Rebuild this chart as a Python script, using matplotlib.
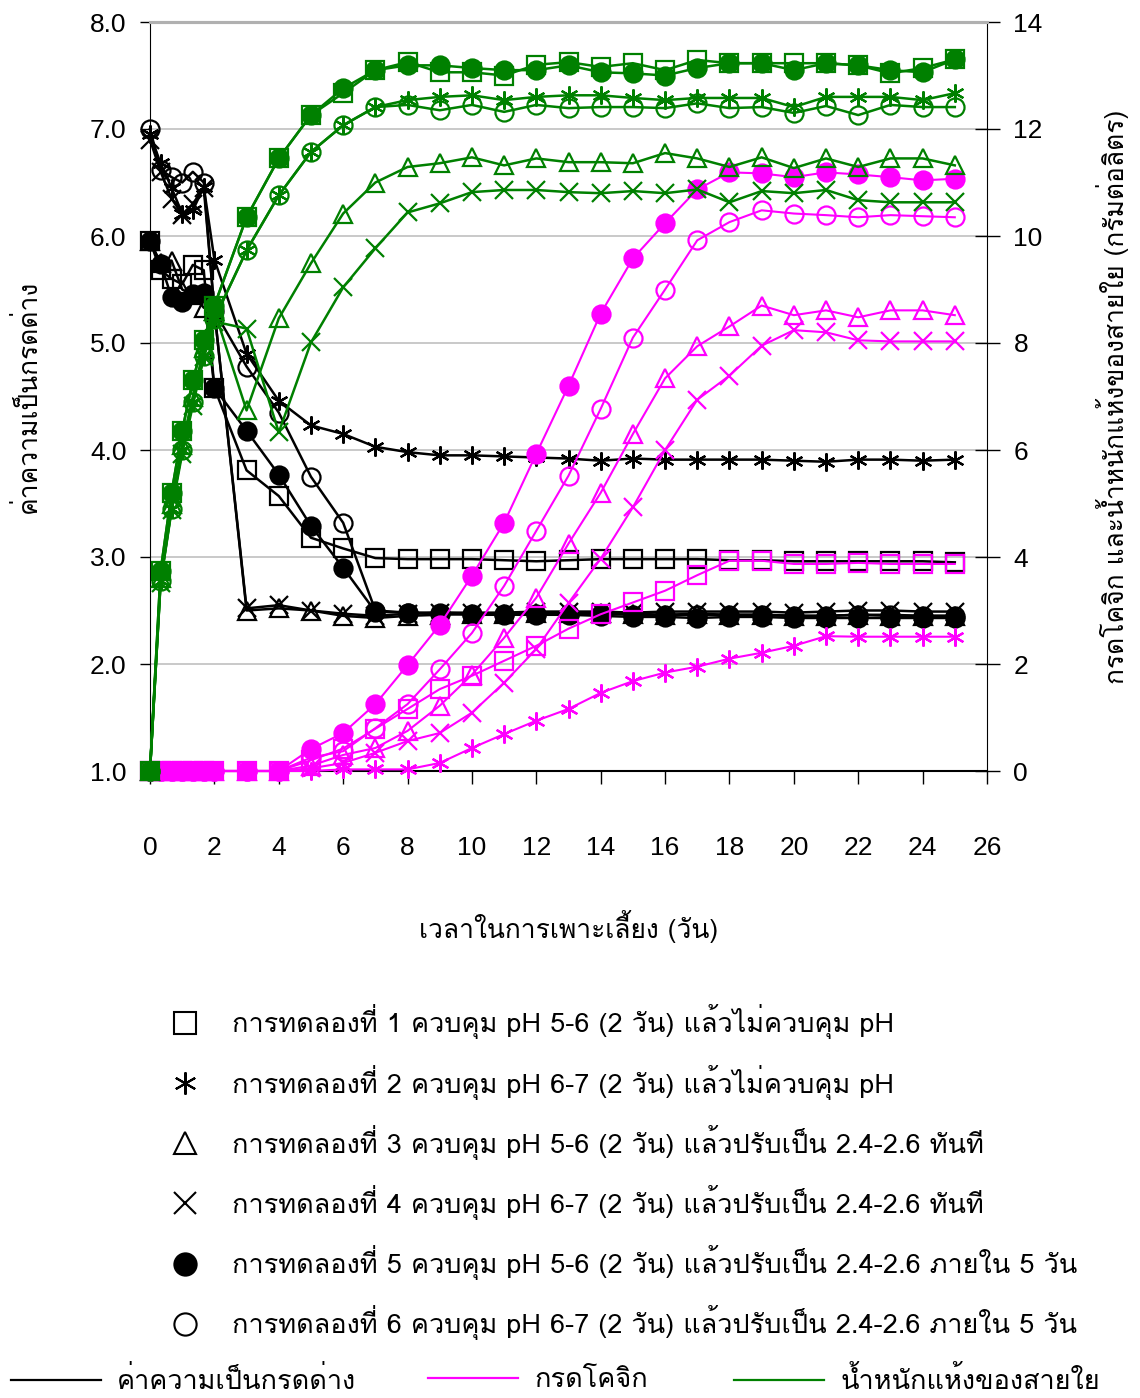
import matplotlib
matplotlib.use("Agg")
import matplotlib.pyplot as plt
from matplotlib.lines import Line2D
from matplotlib import font_manager
from matplotlib.ft2font import FT2Font


def thai_font():
    names = []
    for f in font_manager.fontManager.ttflist:
        try:
            if 0x0E01 in FT2Font(f.fname).get_charmap():
                names.append(f.name)
        except Exception:
            pass
    if "Loma" in names:
        return ["Loma"]
    return names[:1]


FAMILY = thai_font() + ["Liberation Sans", "DejaVu Sans"]

# sampling days: every 8 h for the first two days, then daily
days = [0, 0.33, 0.67, 1, 1.33, 1.67, 2, 3, 4, 5, 6, 7, 8, 9, 10, 11, 12, 13,
        14, 15, 16, 17, 18, 19, 20, 21, 22, 23, 24, 25]

# pH (left axis)
ph_1 = [5.95, 5.68, 5.60, 5.55, 5.73, 5.68, 4.58, 3.81, 3.57, 3.18, 3.08, 2.99, 2.98, 2.98, 2.98,
        2.97, 2.96, 2.97, 2.98, 2.98, 2.98, 2.98, 2.97, 2.97, 2.96, 2.96, 2.96, 2.96, 2.96, 2.95]
ph_2 = [6.95, 6.68, 6.45, 6.21, 6.24, 6.46, 5.78, 4.90, 4.46, 4.23, 4.15, 4.03, 3.98, 3.95, 3.95,
        3.94, 3.93, 3.92, 3.90, 3.92, 3.91, 3.91, 3.91, 3.91, 3.90, 3.89, 3.91, 3.91, 3.90, 3.91]
ph_3 = [5.95, 5.75, 5.77, 5.50, 5.45, 5.33, 5.30, 2.50, 2.52, 2.50, 2.45, 2.43, 2.45, 2.46, 2.47,
        2.47, 2.48, 2.48, 2.48, 2.47, 2.46, 2.47, 2.46, 2.46, 2.45, 2.45, 2.46, 2.45, 2.45, 2.45]
ph_4 = [6.90, 6.60, 6.35, 6.20, 6.30, 6.45, 5.30, 2.52, 2.55, 2.50, 2.47, 2.45, 2.47, 2.48, 2.48,
        2.48, 2.49, 2.49, 2.49, 2.48, 2.49, 2.49, 2.49, 2.49, 2.48, 2.49, 2.50, 2.50, 2.49, 2.49]
ph_5 = [5.95, 5.74, 5.43, 5.38, 5.46, 5.47, 4.58, 4.18, 3.77, 3.29, 2.90, 2.49, 2.48, 2.47, 2.46,
        2.46, 2.46, 2.46, 2.45, 2.44, 2.44, 2.43, 2.44, 2.44, 2.43, 2.43, 2.43, 2.43, 2.43, 2.43]
ph_6 = [7.00, 6.62, 6.55, 6.50, 6.60, 6.50, 5.30, 4.78, 4.35, 3.75, 3.32, 2.50, 2.48, 2.48, 2.47,
        2.47, 2.47, 2.47, 2.47, 2.46, 2.46, 2.46, 2.46, 2.46, 2.45, 2.45, 2.46, 2.46, 2.45, 2.45]

# kojic acid, g/L (right axis)
kojic_1 = [0, 0, 0, 0, 0, 0, 0, 0, 0, 0.20, 0.42, 0.79, 1.16, 1.53, 1.78, 2.06, 2.34, 2.66, 2.93,
           3.15, 3.37, 3.66, 3.93, 3.93, 3.87, 3.87, 3.89, 3.87, 3.87, 3.87]
kojic_2 = [0, 0, 0, 0, 0, 0, 0, 0, 0, 0, 0.03, 0.03, 0.03, 0.15, 0.43, 0.69, 0.94, 1.16, 1.46,
           1.68, 1.84, 1.95, 2.10, 2.21, 2.34, 2.52, 2.51, 2.51, 2.51, 2.51]
kojic_3 = [0, 0, 0, 0, 0, 0, 0, 0, 0, 0.10, 0.30, 0.43, 0.75, 1.22, 1.80, 2.49, 3.24, 4.25, 5.20,
           6.30, 7.34, 7.94, 8.31, 8.70, 8.52, 8.61, 8.48, 8.61, 8.61, 8.52]
kojic_4 = [0, 0, 0, 0, 0, 0, 0, 0, 0, 0.05, 0.15, 0.34, 0.56, 0.71, 1.09, 1.65, 2.28, 3.14, 3.97,
           4.93, 6.00, 6.94, 7.39, 7.95, 8.24, 8.20, 8.05, 8.03, 8.03, 8.03]
kojic_5 = [0, 0, 0, 0, 0, 0, 0, 0, 0, 0.41, 0.71, 1.25, 1.98, 2.73, 3.65, 4.64, 5.93, 7.20, 8.55,
           9.58, 10.24, 10.87, 11.19, 11.17, 11.10, 11.19, 11.15, 11.10, 11.04, 11.07]
kojic_6 = [0, 0, 0, 0, 0, 0, 0, 0, 0, 0.25, 0.37, 0.80, 1.25, 1.90, 2.58, 3.46, 4.49, 5.52, 6.77,
           8.10, 9.00, 9.92, 10.26, 10.48, 10.42, 10.39, 10.35, 10.39, 10.37, 10.35]

# mycelium dry weight, g/L (right axis)
dw_1 = [0, 3.74, 5.20, 6.36, 7.30, 8.05, 8.70, 10.35, 11.45, 12.26, 12.67, 13.10, 13.25, 13.06, 13.06,
        13.00, 13.20, 13.25, 13.16, 13.23, 13.10, 13.29, 13.23, 13.23, 13.23, 13.23, 13.19, 13.04, 13.14, 13.30]
dw_2 = [0, 3.55, 4.90, 6.00, 6.90, 7.75, 8.45, 9.73, 10.76, 11.57, 12.07, 12.41, 12.54, 12.60, 12.63,
        12.54, 12.60, 12.63, 12.63, 12.58, 12.54, 12.58, 12.58, 12.58, 12.41, 12.60, 12.60, 12.60, 12.54, 12.67]
dw_3 = [0, 3.60, 5.00, 6.10, 7.00, 7.90, 8.60, 6.74, 8.46, 9.49, 10.42, 11.00, 11.29, 11.36, 11.47,
        11.32, 11.45, 11.38, 11.38, 11.36, 11.55, 11.45, 11.29, 11.47, 11.27, 11.45, 11.29, 11.45, 11.45, 11.32]
dw_4 = [0, 3.52, 4.87, 5.93, 6.83, 7.73, 8.40, 8.27, 6.33, 8.01, 9.04, 9.77, 10.44, 10.61, 10.82,
        10.86, 10.86, 10.82, 10.80, 10.84, 10.80, 10.87, 10.63, 10.84, 10.80, 10.86, 10.67, 10.63, 10.63, 10.63]
dw_5 = [0, 3.74, 5.20, 6.36, 7.30, 8.05, 8.70, 10.35, 11.45, 12.26, 12.76, 13.10, 13.19, 13.19, 13.14,
        13.10, 13.10, 13.19, 13.06, 13.04, 13.00, 13.14, 13.23, 13.23, 13.10, 13.23, 13.19, 13.10, 13.06, 13.30]
dw_6 = [0, 3.55, 4.90, 6.00, 6.90, 7.75, 8.45, 9.73, 10.76, 11.57, 12.07, 12.41, 12.45, 12.35, 12.45,
        12.32, 12.45, 12.39, 12.41, 12.41, 12.39, 12.48, 12.39, 12.41, 12.30, 12.43, 12.26, 12.45, 12.41, 12.41]

exp_labels = [
    "การทดลองที่ 1 ควบคุม pH 5-6 (2 วัน) แล้วไม่ควบคุม pH",
    "การทดลองที่ 2 ควบคุม pH 6-7 (2 วัน) แล้วไม่ควบคุม pH",
    "การทดลองที่ 3 ควบคุม pH 5-6 (2 วัน) แล้วปรับเป็น 2.4-2.6 ทันที",
    "การทดลองที่ 4 ควบคุม pH 6-7 (2 วัน) แล้วปรับเป็น 2.4-2.6 ทันที",
    "การทดลองที่ 5 ควบคุม pH 5-6 (2 วัน) แล้วปรับเป็น 2.4-2.6 ภายใน 5 วัน",
    "การทดลองที่ 6 ควบคุม pH 6-7 (2 วัน) แล้วปรับเป็น 2.4-2.6 ภายใน 5 วัน",
]
measure_labels = ["ค่าความเป็นกรดด่าง", "กรดโคจิก", "น้ำหนักแห้งของสายใย"]

ph = [ph_1, ph_2, ph_3, ph_4, ph_5, ph_6]
kojic = [kojic_1, kojic_2, kojic_3, kojic_4, kojic_5, kojic_6]
dw = [dw_1, dw_2, dw_3, dw_4, dw_5, dw_6]

markers = ["s", (6, 2, 0), "^", "x", "o", "o"]
filled = [False, False, False, False, True, False]
BLACK, MAGENTA, GREEN = "black", "#ff00ff", "#008000"

plt.rcParams["font.family"] = FAMILY

fig = plt.figure(figsize=(11.4, 13.98), dpi=100)
ax = fig.add_axes([150 / 1140, 1 - 771 / 1398, 837 / 1140, 749 / 1398])
ax2 = ax.twinx()


def draw(axis, x, y, i, color, lw, ms=13):
    axis.plot(x, y, color=color, lw=lw, marker=markers[i], ms=ms, mew=1.6,
              mec=color, mfc=color if filled[i] else "none", clip_on=False)


for i in range(6):
    draw(ax, days, ph[i], i, BLACK, 1.8)
for i in range(6):
    draw(ax2, days, kojic[i], i, MAGENTA, 1.5)
for i in range(6):
    draw(ax2, days, dw[i], i, GREEN, 1.8)

ax.set_xlim(0, 26)
ax.set_ylim(1, 8)
ax2.set_ylim(0, 14)
ax.set_xticks(range(0, 27, 2))
ax.set_yticks([1, 2, 3, 4, 5, 6, 7, 8])
ax.set_yticklabels([f"{v:.1f}" for v in range(1, 9)])
ax2.set_yticks(range(0, 15, 2))

for lab in ax.get_xticklabels() + ax.get_yticklabels() + ax2.get_yticklabels():
    lab.set_fontfamily("Liberation Sans")
    lab.set_fontsize(19)

ax.tick_params(axis="x", direction="out", length=9, pad=38, width=1)
ax.tick_params(axis="y", direction="out", length=7, pad=10, width=1)
ax2.tick_params(axis="y", direction="inout", length=18, pad=10, width=1)

ax.yaxis.grid(True, color="#c0c0c0", lw=1.2)
ax.set_axisbelow(True)
for a in (ax, ax2):
    a.spines["top"].set_color("#b0b0b0")
    a.spines["top"].set_linewidth(2.2)
ax.spines["right"].set_visible(False)
ax2.spines["left"].set_visible(False)
ax2.spines["bottom"].set_visible(False)
ax.spines["bottom"].set_linewidth(1.5)

ax.set_xlabel("เวลาในการเพาะเลี้ยง (วัน)", fontsize=19, labelpad=36)
ax.set_ylabel(measure_labels[0], fontsize=19, labelpad=35)
ax2.set_ylabel("กรดโคจิก และน้ำหนักแห้งของสายใย (กรัมต่อลิตร)", fontsize=19, labelpad=38)

exp_handles = [Line2D([], [], ls="none", marker=markers[i], ms=16, mew=1.5, mec=BLACK,
                      mfc=BLACK if filled[i] else "none") for i in range(6)]
fig.legend(exp_handles, exp_labels, loc="upper left", bbox_to_anchor=(134 / 1140, 1 - 980 / 1398),
           frameon=False, fontsize=19.5, labelspacing=0.93, handletextpad=0.7)

# one small legend per measure so each sits where the reference puts it
for color, label, x0 in zip((BLACK, MAGENTA, GREEN), measure_labels, (-13, 404, 710)):
    fig.legend([Line2D([], [], color=color, lw=1.6)], [label], loc="center left",
               bbox_to_anchor=(x0 / 1140, 1 - 1380 / 1398), frameon=False, fontsize=19.5,
               handlelength=3.3, handletextpad=0.6)

fig.savefig("out.png", dpi=100)
